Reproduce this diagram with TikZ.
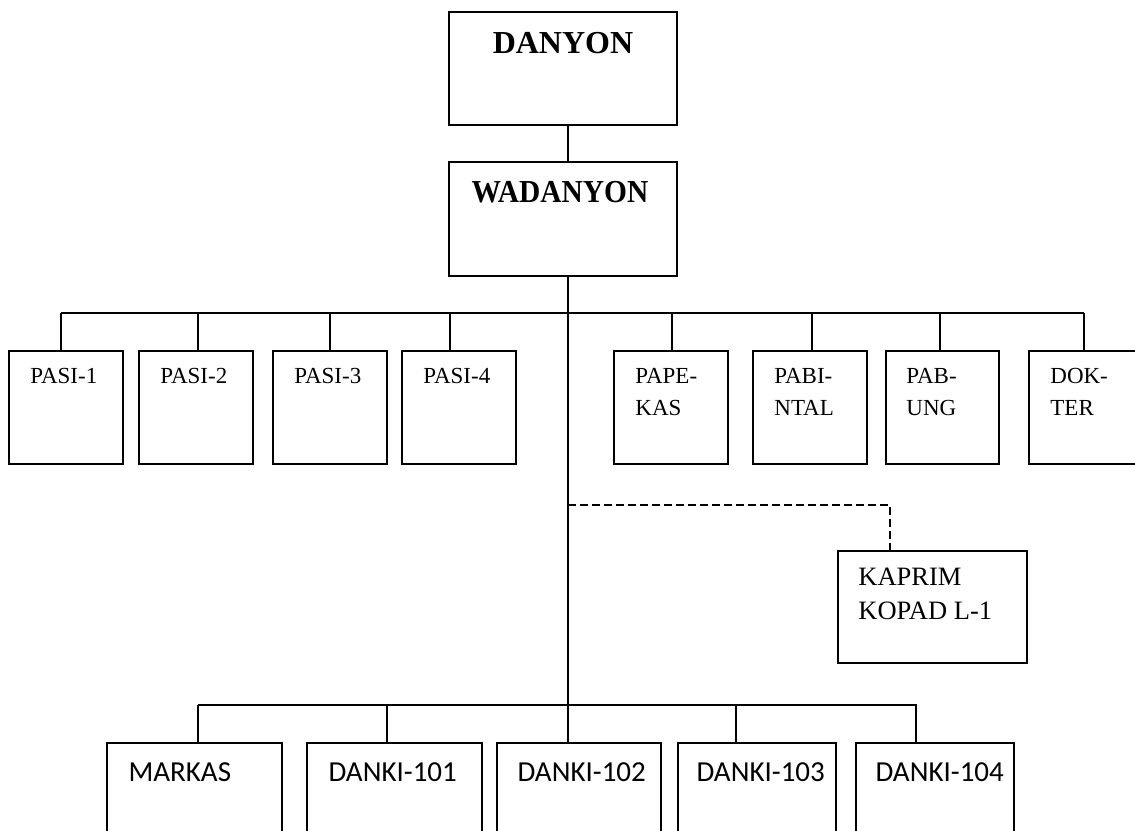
\documentclass[tikz,border=0pt]{standalone}
\usepackage{fontspec}
\setmainfont{Liberation Serif}
\newfontfamily\carl{Carlito}
\begin{document}
\begin{tikzpicture}[x=1pt,y=-1pt,
  box/.style={draw, line width=1.6pt, inner sep=0pt, rectangle},
  sbox/.style={box, minimum width=114pt, minimum height=113pt},
  bbox/.style={draw, line width=1.3pt, inner sep=0pt, rectangle, minimum height=127pt},
  lbl/.style={inner sep=0pt, anchor=base west, font=\fontsize{23}{27}\selectfont},
  klbl/.style={inner sep=0pt, anchor=base west, font=\fontsize{26.5}{30}\selectfont},
  blbl/.style={inner sep=0pt, anchor=base, font=\fontsize{32}{36}\selectfont\bfseries},
  clbl/.style={inner sep=0pt, anchor=base west, font=\carl\fontsize{29}{33}\selectfont},
  conn/.style={line width=1.4pt},
  dconn/.style={line width=1.4pt, dash pattern=on 8pt off 4pt}]
\useasboundingbox (0,0) rectangle (1135,830);
\clip (0,0) rectangle (1135,830);

% top
\node[box, minimum width=228pt, minimum height=113pt] (danyon) at (563,68.5) {};
\node[blbl] (tdanyon) at (563,53) {DANYON};
\node[box, minimum width=228pt, minimum height=114pt] (wadanyon) at (563,219) {};
\node[blbl] (twadanyon) at (560,202) {\scalebox{0.92}[1]{WADANYON}};

% staff boxes
\node[sbox] (pasi1) at (66,407.5) {};
\node[sbox] (pasi2) at (196,407.5) {};
\node[sbox] (pasi3) at (330,407.5) {};
\node[sbox] (pasi4) at (459,407.5) {};
\node[sbox] (papekas) at (671,407.5) {};
\node[sbox] (pabintal) at (810,407.5) {};
\node[sbox, minimum width=113pt] (pabung) at (942.5,407.5) {};
\node[sbox] (dokter) at (1086,407.5) {};

\node[lbl] (tpasi1) at ([xshift=22pt,yshift=-33pt]pasi1.north west) {PASI-1};
\node[lbl] (tpasi2) at ([xshift=22pt,yshift=-33pt]pasi2.north west) {PASI-2};
\node[lbl] (tpasi3) at ([xshift=22pt,yshift=-33pt]pasi3.north west) {PASI-3};
\node[lbl] (tpasi4) at ([xshift=22pt,yshift=-33pt]pasi4.north west) {PASI-4};
\node[lbl] (tpape1) at ([xshift=22pt,yshift=-33pt]papekas.north west) {PAPE-};
\node[lbl] (tpape2) at ([xshift=22pt,yshift=-65pt]papekas.north west) {KAS};
\node[lbl] (tpabi1) at ([xshift=22pt,yshift=-33pt]pabintal.north west) {PABI-};
\node[lbl] (tpabi2) at ([xshift=22pt,yshift=-65pt]pabintal.north west) {NTAL};
\node[lbl] (tpab1) at ([xshift=21pt,yshift=-33pt]pabung.north west) {PAB-};
\node[lbl] (tpab2) at ([xshift=21pt,yshift=-65pt]pabung.north west) {UNG};
\node[lbl] (tdok1) at ([xshift=22pt,yshift=-33pt]dokter.north west) {DOK-};
\node[lbl] (tdok2) at ([xshift=22pt,yshift=-65pt]dokter.north west) {TER};

% kaprim
\node[box, minimum width=189pt, minimum height=112pt] (kaprim) at (932.5,607) {};
\node[klbl] (tkap1) at ([xshift=21pt,yshift=-35pt]kaprim.north west) {KAPRIM};
\node[klbl] (tkap2) at ([xshift=21pt,yshift=-69pt]kaprim.north west) {KOPAD L-1};

% bottom boxes
\node[bbox, minimum width=175pt] (markas) at (194.5,806.5) {};
\node[bbox, minimum width=175pt] (danki101) at (394.5,806.5) {};
\node[bbox, minimum width=164pt] (danki102) at (579,806.5) {};
\node[bbox, minimum width=158pt] (danki103) at (757,806.5) {};
\node[bbox, minimum width=158pt] (danki104) at (935,806.5) {};
\node[clbl] (tmarkas) at ([xshift=22pt,yshift=-39pt]markas.north west) {MARKAS};
\node[clbl] (t101) at ([xshift=22pt,yshift=-39pt]danki101.north west) {DANKI-101};
\node[clbl] (t102) at ([xshift=21pt,yshift=-39pt]danki102.north west) {DANKI-102};
\node[clbl] (t103) at ([xshift=19pt,yshift=-39pt]danki103.north west) {DANKI-103};
\node[clbl] (t104) at ([xshift=20pt,yshift=-39pt]danki104.north west) {DANKI-104};

% connectors
\coordinate (spine) at (568,0);
\draw[conn] (danyon.south -| spine) -- (wadanyon.north -| spine);
\draw[conn] (wadanyon.south -| spine) -- (danki102.north -| spine);

\coordinate (tbL) at (61,313);
\coordinate (tbR) at (1084,313);
\draw[conn] (tbL) -- (tbR);
\coordinate (d1) at (61,313);
\coordinate (d2) at (198,313);
\coordinate (d3) at (330,313);
\coordinate (d4) at (450,313);
\coordinate (d5) at (672,313);
\coordinate (d6) at (812,313);
\coordinate (d7) at (940,313);
\coordinate (d8) at (1084,313);
\draw[conn] (d1) -- (d1 |- pasi1.north);
\draw[conn] (d2) -- (d2 |- pasi2.north);
\draw[conn] (d3) -- (d3 |- pasi3.north);
\draw[conn] (d4) -- (d4 |- pasi4.north);
\draw[conn] (d5) -- (d5 |- papekas.north);
\draw[conn] (d6) -- (d6 |- pabintal.north);
\draw[conn] (d7) -- (d7 |- pabung.north);
\draw[conn] (d8) -- (d8 |- dokter.north);

\coordinate (ds) at (568,505);
\coordinate (dsR) at (890,505);
\draw[dconn] (ds) -- (dsR) -- (dsR |- kaprim.north);

\coordinate (bbL) at (198,705);
\coordinate (bbR) at (917,705);
\draw[conn] (bbL) -- (bbR);
\coordinate (b1) at (198,705);
\coordinate (b2) at (387,705);
\coordinate (b4) at (736,705);
\coordinate (b5) at (916,705);
\draw[conn] (b1) -- (b1 |- markas.north);
\draw[conn] (b2) -- (b2 |- danki101.north);
\draw[conn] (b4) -- (b4 |- danki103.north);
\draw[conn] (b5) -- (b5 |- danki104.north);
\end{tikzpicture}
\end{document}
